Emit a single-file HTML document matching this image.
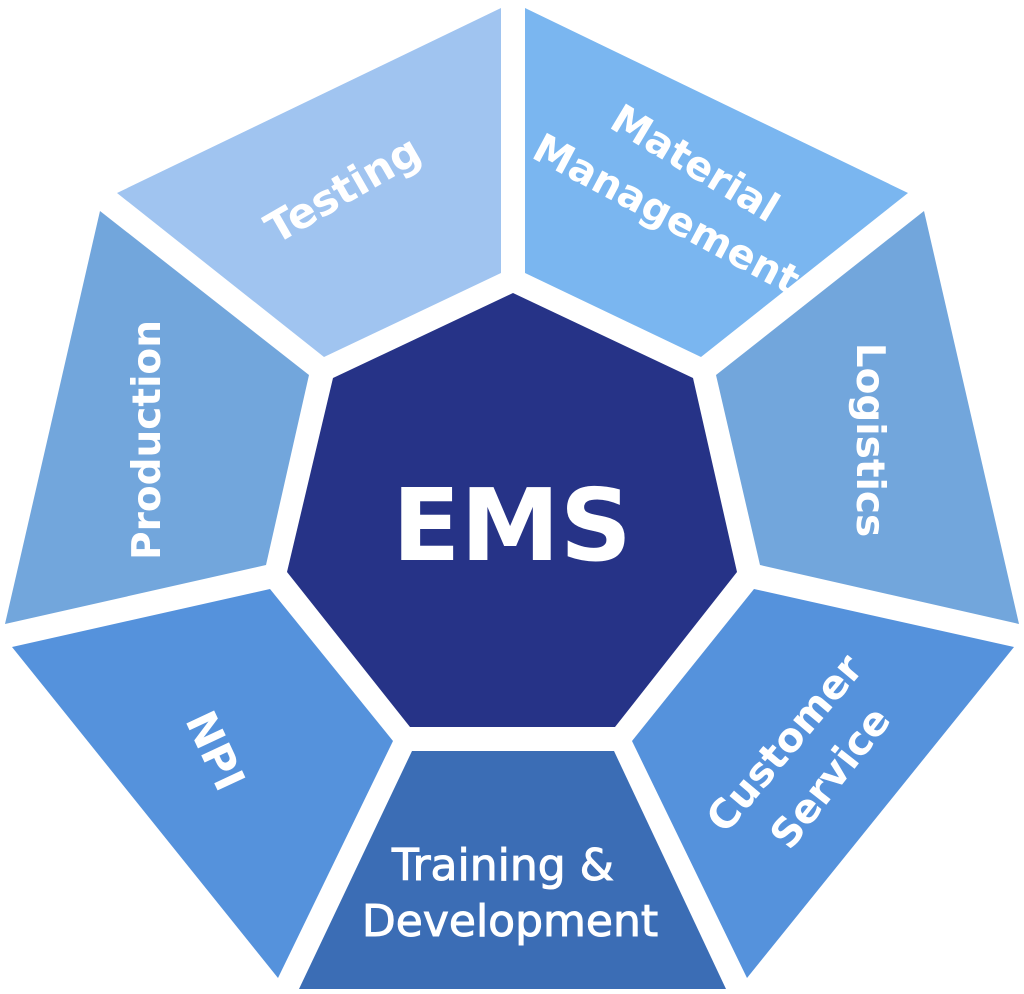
<!DOCTYPE html>
<html><head><meta charset="utf-8"><style>
html,body{margin:0;padding:0;background:#fff;}
svg{display:block;}
text{font-family:"DejaVu Sans","Liberation Sans",sans-serif;font-weight:bold;fill:#fff;}
</style></head><body>
<svg width="1024" height="994" viewBox="0 0 1024 994" xmlns="http://www.w3.org/2000/svg">
<polygon points="501,8 117,193 324,357 501,273" fill="#a0c4f0"/>
<polygon points="525,8 908,193 701,357 525,273" fill="#7ab6f0"/>
<polygon points="100,211 309,375 266,565 5,624" fill="#72a6dc"/>
<polygon points="924,211 716,375 760,565 1019,624" fill="#72a6dc"/>
<polygon points="12,647 270,589 393,741 278,978" fill="#5592dc"/>
<polygon points="1014,647 754,589 632,741 747,978" fill="#5592dc"/>
<polygon points="412,751 614,751 726,989 299,989" fill="#3b6db5"/>
<polygon points="513,293 693,378 737,572 615,727 410,727 287,572 333,378" fill="#263387"/>
<text x="512" y="560" font-size="100" text-anchor="middle" font-family="Liberation Sans">EMS</text>
<text transform="translate(350,202) rotate(-30)" font-size="42" text-anchor="middle">Testing</text>
<text transform="translate(688,175) rotate(31)" font-size="40" text-anchor="middle">Material</text>
<text transform="translate(660,226) rotate(28)" font-size="40" text-anchor="middle">Management</text>
<text transform="translate(160,440) rotate(-90)" font-size="39" text-anchor="middle">Production</text>
<text transform="translate(857,440) rotate(90)" font-size="39" text-anchor="middle">Logistics</text>
<text transform="translate(202,757) rotate(65)" font-size="42" text-anchor="middle">NPI</text>
<text transform="translate(795,752) rotate(-50)" font-size="40" text-anchor="middle">Customer</text>
<text transform="translate(841,786) rotate(-52)" font-size="40" text-anchor="middle">Service</text>
<text x="503" y="880" font-size="44" text-anchor="middle" font-family="Liberation Sans" style="font-weight:normal;stroke:#fff;stroke-width:1">Training &amp;</text>
<text x="510" y="936" font-size="44" text-anchor="middle" font-family="Liberation Sans" style="font-weight:normal;stroke:#fff;stroke-width:1">Development</text>
</svg>
</body></html>
